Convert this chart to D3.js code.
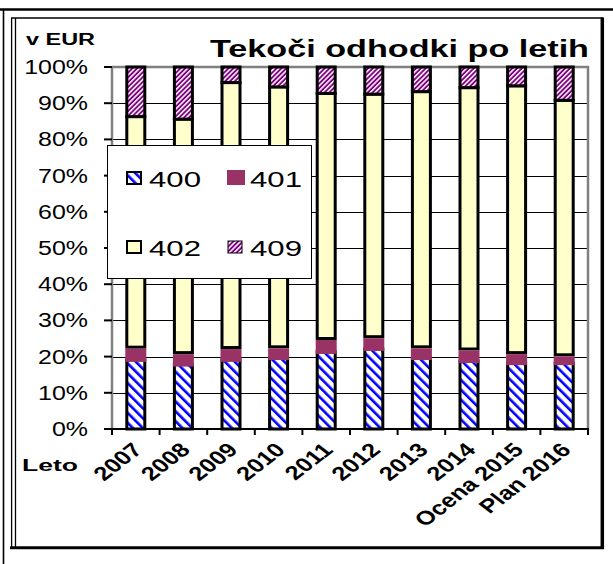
<!DOCTYPE html>
<html><head><meta charset="utf-8">
<script src="https://cdn.jsdelivr.net/npm/d3@7"></script>
<style>
html,body{margin:0;padding:0;background:#fff;}
svg{display:block;}
text{font-family:"Liberation Sans",Arial,sans-serif;}
</style></head>
<body>
<script>
const categories = ["2007","2008","2009","2010","2011","2012","2013","2014","Ocena 2015","Plan 2016"];
const seriesNames = ["400","401","402","409"];
const s400 = [19.1, 17.8, 19.1, 19.6, 21.3, 22.1, 19.6, 18.8, 18.2, 18.2];
const s401 = [3.5, 3.3, 3.4, 3.1, 3.7, 3.4, 3.1, 3.3, 2.9, 2.3];
const s402 = [63.7, 64.5, 73.2, 71.8, 67.7, 67.0, 70.5, 72.2, 73.7, 70.3];
const s409 = [13.7, 14.4, 4.3, 5.5, 7.3, 7.5, 6.8, 5.7, 5.2, 9.2];
const yTicks = [0,10,20,30,40,50,60,70,80,90,100];
const titleText = "Tekoči odhodki po letih";
const unitText = "v EUR";
const xAxisTitle = "Leto";

const W = 613, H = 564;
const svg = d3.select("body").append("svg").attr("width", W).attr("height", H);
const defs = svg.append("defs");

// patterns
const p400 = defs.append("pattern").attr("id","p400").attr("patternUnits","userSpaceOnUse")
  .attr("width",7).attr("height",7).attr("patternTransform","rotate(-45)");
p400.append("rect").attr("width",7).attr("height",7).attr("fill","#fff");
p400.append("rect").attr("width",2.6).attr("height",7).attr("fill","#0000ff");
const p409 = defs.append("pattern").attr("id","p409").attr("patternUnits","userSpaceOnUse")
  .attr("width",3.4).attr("height",3.4).attr("patternTransform","rotate(45)");
p409.append("rect").attr("width",3.4).attr("height",3.4).attr("fill","#800080");
p409.append("rect").attr("width",1.5).attr("height",3.4).attr("fill","#fff");

const fills = {"400":"url(#p400)","401":"#993366","402":"#ffffcc","409":"url(#p409)"};

// frames
svg.append("line").attr("x1",0).attr("x2",W).attr("y1",9.5).attr("y2",9.5).attr("stroke","#000").attr("stroke-width",2.5);
svg.append("line").attr("x1",3.5).attr("x2",3.5).attr("y1",9).attr("y2",H).attr("stroke","#000").attr("stroke-width",1.6);
svg.append("line").attr("x1",11).attr("x2",603).attr("y1",18).attr("y2",18).attr("stroke","#000").attr("stroke-width",1.4);
svg.append("line").attr("x1",11.6).attr("x2",11.6).attr("y1",18).attr("y2",547).attr("stroke","#000").attr("stroke-width",1.3);
svg.append("line").attr("x1",15.5).attr("x2",15.5).attr("y1",18).attr("y2",547).attr("stroke","#000").attr("stroke-width",1.3);
svg.append("line").attr("x1",602.3).attr("x2",602.3).attr("y1",17.5).attr("y2",549).attr("stroke","#000").attr("stroke-width",3.5);
svg.append("line").attr("x1",10).attr("x2",604).attr("y1",547.8).attr("y2",547.8).attr("stroke","#000").attr("stroke-width",3);

const x = d3.scaleBand().domain(categories).range([112,588]);
const y = d3.scaleLinear().domain([0,100]).range([429,67]);

function stretch(sel, k){
  sel.each(function(){
    const len = this.getComputedTextLength();
    d3.select(this).attr("textLength", len*k).attr("lengthAdjust","spacingAndGlyphs");
  });
}

// gridlines
svg.append("g").selectAll("line").data(yTicks.filter(t=>t>0 && t<100)).join("line")
  .attr("x1",112).attr("x2",588).attr("y1",d=>Math.round(y(d))+0.5).attr("y2",d=>Math.round(y(d))+0.5)
  .attr("stroke","#000").attr("stroke-width",1.2);

// plot frame gray
svg.append("line").attr("x1",112).attr("x2",589).attr("y1",67).attr("y2",67).attr("stroke","#808080").attr("stroke-width",2.5);
svg.append("line").attr("x1",588).attr("x2",588).attr("y1",66).attr("y2",430).attr("stroke","#808080").attr("stroke-width",2.5);
svg.append("line").attr("x1",112).attr("x2",112).attr("y1",66).attr("y2",430).attr("stroke","#808080").attr("stroke-width",2.5);

// stacked data
const table = categories.map((c,i)=>({cat:c,"400":s400[i],"401":s401[i],"402":s402[i],"409":s409[i]}));
const stack = d3.stack().keys(seriesNames)(table);

const bw = 18;
const gBars = svg.append("g");
["400","402","409"].forEach(k=>{
  const s = stack.find(d=>d.key===k);
  gBars.append("g").selectAll("rect").data(s).join("rect")
    .attr("x", d=>x(d.data.cat)+x.bandwidth()/2-bw/2)
    .attr("y", d=>y(d[1]))
    .attr("width", bw)
    .attr("height", d=>y(d[0])-y(d[1]))
    .attr("fill", fills[k]).attr("stroke","#000").attr("stroke-width",3);
});
{
  const s = stack.find(d=>d.key==="401");
  gBars.append("g").selectAll("rect").data(s).join("rect")
    .attr("x", d=>x(d.data.cat)+x.bandwidth()/2-(bw+3)/2)
    .attr("y", d=>y(d[1])+1.5)
    .attr("width", bw+3)
    .attr("height", d=>y(d[0])-y(d[1])+0.5)
    .attr("fill", fills["401"]);
}

// y axis ticks
svg.append("g").selectAll("line").data(yTicks).join("line")
  .attr("x1",104).attr("x2",112).attr("y1",d=>y(d)).attr("y2",d=>y(d))
  .attr("stroke","#000").attr("stroke-width",2);
const yl = svg.append("g").selectAll("text").data(yTicks).join("text")
  .attr("x",88).attr("y",d=>y(d)+7).attr("text-anchor","end")
  .attr("font-size",19.5).attr("fill","#000").text(d=>d+"%");
stretch(yl,1.28);

// x axis
svg.append("line").attr("x1",111).attr("x2",589).attr("y1",429).attr("y2",429).attr("stroke","#000").attr("stroke-width",2);
svg.append("g").selectAll("line").data(categories.concat(["__end"])).join("line")
  .attr("x1",(d,i)=>112+i*x.step()).attr("x2",(d,i)=>112+i*x.step())
  .attr("y1",429).attr("y2",435).attr("stroke","#000").attr("stroke-width",2);

// category labels: 45° text, stretched horizontally like the reference
svg.append("g").selectAll("text").data(categories).join("text")
  .attr("transform",d=>`translate(${x(d)+x.bandwidth()/2+8},${451}) scale(1.3,1) rotate(-45)`)
  .attr("text-anchor","end").attr("font-size",19.5).attr("font-weight","bold").text(d=>d);

const lt = svg.append("text").attr("x",22).attr("y",471).attr("font-size",17).attr("font-weight","bold").text(xAxisTitle);
lt.attr("textLength",56).attr("lengthAdjust","spacingAndGlyphs");

// unit label & title
svg.append("text").attr("x",26).attr("y",45).attr("font-size",16).attr("font-weight","bold")
  .attr("textLength",69).attr("lengthAdjust","spacingAndGlyphs").text(unitText);
svg.append("text").attr("x",210).attr("y",57).attr("font-size",24).attr("font-weight","bold")
  .attr("textLength",379).attr("lengthAdjust","spacingAndGlyphs").text(titleText);

// legend
const lg = svg.append("g");
lg.append("rect").attr("x",107.5).attr("y",145.5).attr("width",204).attr("height",133)
  .attr("fill","#fff").attr("stroke","#000").attr("stroke-width",1);
const legendPos = [
  {k:"400", sx:127, sy:172, tx:149, ty:187, stroke:2},
  {k:"401", sx:227, sy:171, tx:250, ty:187, stroke:0},
  {k:"402", sx:127, sy:241, tx:149, ty:256, stroke:2},
  {k:"409", sx:228, sy:241, tx:250, ty:256, stroke:1}
];
legendPos.forEach(p=>{
  const r = lg.append("rect").attr("fill",fills[p.k]);
  if(p.stroke){
    r.attr("x",p.sx).attr("y",p.sy).attr("width",14).attr("height",12).attr("stroke","#000").attr("stroke-width",p.stroke);
  } else {
    r.attr("x",p.sx).attr("y",p.sy-1).attr("width",18).attr("height",15);
  }
  lg.append("text").attr("x",p.tx).attr("y",p.ty).attr("font-size",22.5)
    .attr("textLength",52).attr("lengthAdjust","spacingAndGlyphs").text(p.k);
});
</script>
</body></html>
